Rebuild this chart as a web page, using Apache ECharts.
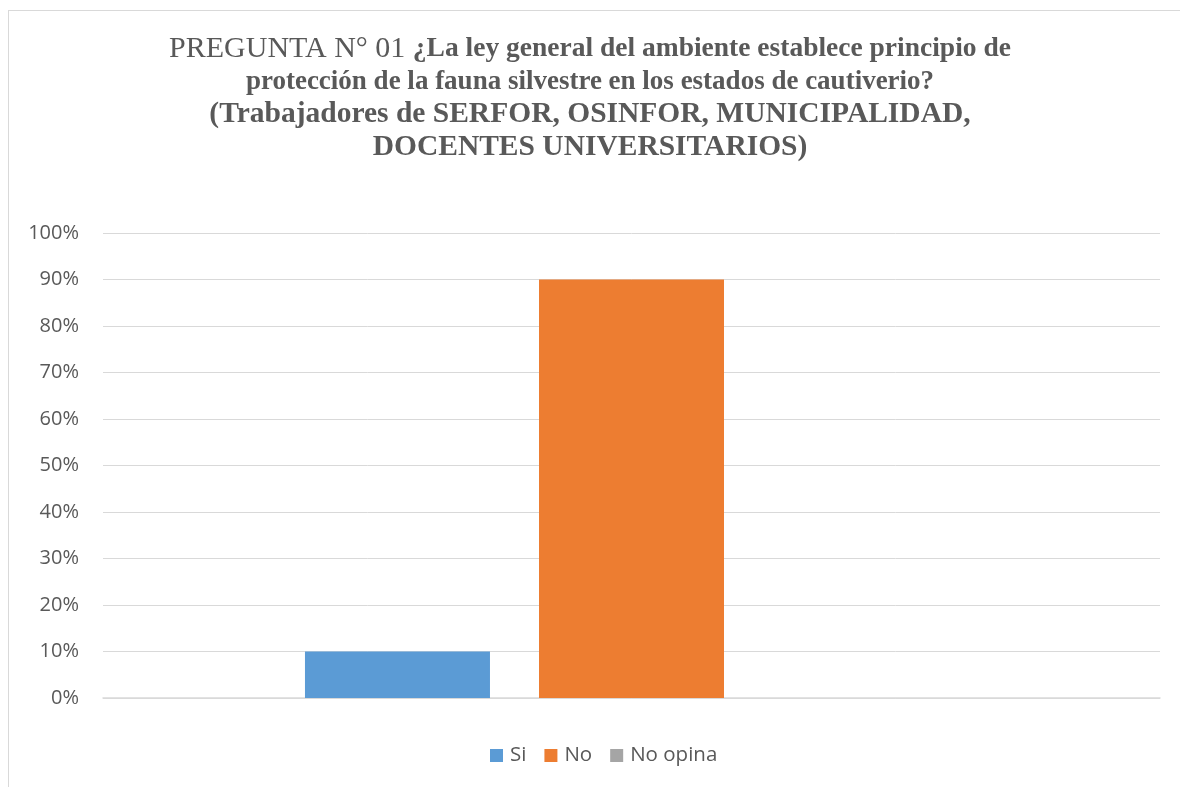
<!DOCTYPE html>
<html style="height: 100%">
<head>
    <meta charset="utf-8">
    <script src="https://cdn.jsdelivr.net/npm/echarts@6.0.0/dist/echarts.min.js"></script>
</head>
<body style="height: 100%; margin: 0; background-color: #ffffff;">
    <div id="frame" style="position:absolute;left:8px;top:10px;width:1190px;height:800px;border:1px solid #D9D9D9;box-sizing:border-box;"></div>
    <div id="main" style="position:absolute;left:0;top:0;width: 1180px;height: 787px;"></div>
<script>
var categories = ['Respuesta'];
var seriesNames = ['Si', 'No', 'No opina'];
var seriesValues = [10, 90, 0];
var seriesColors = ['#5B9BD5', '#ED7D31', '#A5A5A5'];

var chartDom = document.getElementById('main');
var myChart = echarts.init(chartDom);

var series = seriesNames.map(function (name, i) {
    return {
        name: name,
        type: 'bar',
        data: [seriesValues[i]],
        barWidth: 185,
        barGap: '26.5%',
        itemStyle: { color: seriesColors[i] }
    };
});

var option = {
    animation: false,
    title: {
        text: '{n|PREGUNTA N° 01 }{b|¿La ley general del ambiente establece principio de}\n{b2|protección de la fauna silvestre en los estados de cautiverio?}\n{c|(Trabajadores de SERFOR, OSINFOR, MUNICIPALIDAD,}\n{c|DOCENTES UNIVERSITARIOS)}',
        left: 'center',
        top: 28,
        textStyle: {
            fontWeight: 'normal',
            rich: {
                n: { fontFamily: 'Liberation Serif', fontSize: 30, fontWeight: 'normal', color: '#595959', lineHeight: 32.7 },
                b: { fontFamily: 'Liberation Serif', fontSize: 27.5, fontWeight: 'bold', color: '#595959', lineHeight: 32.7 },
                b2: { fontFamily: 'Liberation Serif', fontSize: 27, fontWeight: 'bold', color: '#595959', lineHeight: 32.7 },
                c: { fontFamily: 'Liberation Serif', fontSize: 29.5, fontWeight: 'bold', color: '#595959', lineHeight: 32.7 }
            }
        }
    },
    legend: {
        data: seriesNames,
        bottom: 16,
        left: 485,
        itemWidth: 13,
        itemHeight: 13,
        itemGap: 18,
        icon: 'rect',
        textStyle: { fontFamily: 'Open Sans', fontSize: 20.5, color: '#595959', padding: [0, 0, 0, 2] }
    },
    grid: { left: 103, right: 20, top: 233, bottom: 89, containLabel: false },
    xAxis: {
        type: 'category',
        data: categories,
        axisLine: { show: true, lineStyle: { color: '#D9D9D9', width: 1.5 } },
        axisTick: { show: false },
        axisLabel: { show: false }
    },
    yAxis: {
        type: 'value',
        min: 0,
        max: 100,
        interval: 10,
        axisLine: { show: false },
        axisTick: { show: false },
        splitLine: { lineStyle: { color: '#D9D9D9', width: 1 } },
        axisLabel: {
            formatter: '{value}%',
            margin: 24,
            fontFamily: 'Open Sans',
            fontSize: 20,
            color: '#595959'
        }
    },
    series: series
};

myChart.setOption(option);
</script>
</body>
</html>
